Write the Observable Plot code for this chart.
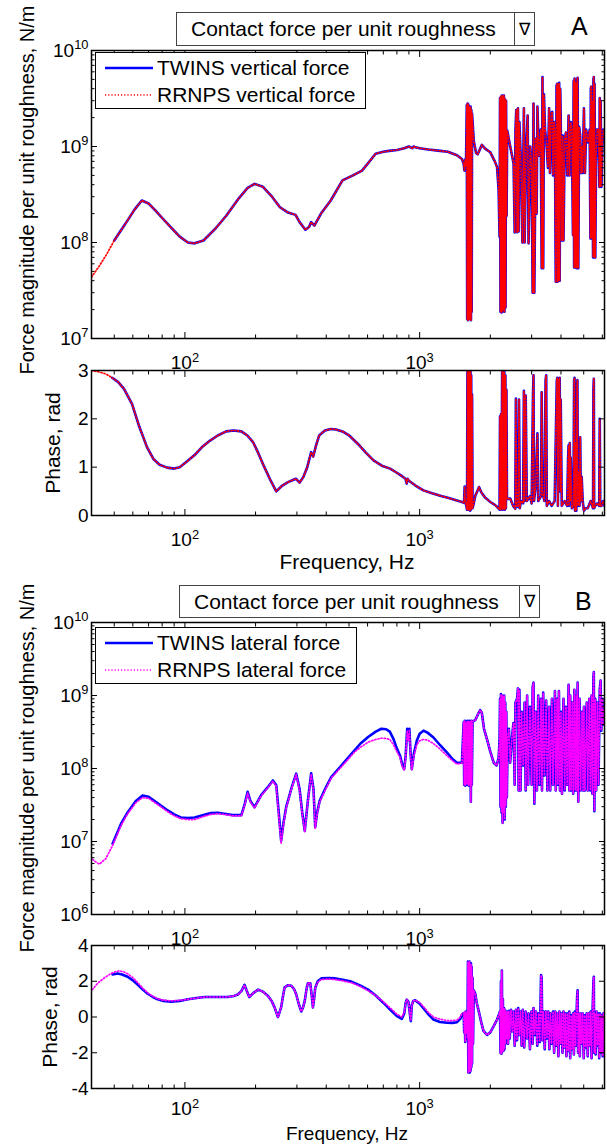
<!DOCTYPE html>
<html><head><meta charset="utf-8">
<script src="https://cdn.jsdelivr.net/npm/d3@7"></script>
<script src="https://cdn.jsdelivr.net/npm/@observablehq/plot@0.6"></script>
<style>
body{margin:0;background:#fff;font-family:"Liberation Sans",Arial,sans-serif;color:#000;}
#root{position:relative;width:607px;height:1145px;overflow:hidden;background:#fff;}
#root svg{position:absolute;left:0;}
.titlebox{position:absolute;border:1px solid #444;background:#fff;font-size:21px;box-sizing:border-box;}
.titlebox .t{position:absolute;left:14px;top:50%;transform:translateY(-50%);white-space:nowrap;}
.titlebox .d{position:absolute;top:0;bottom:0;border-left:1px solid #444;font-size:17px;display:flex;align-items:center;justify-content:center;}
.letter{position:absolute;font-size:25px;}
.legend{position:absolute;border:1.5px solid #000;background:#fff;box-sizing:border-box;font-size:21px;}
.legend .row{position:absolute;left:0;white-space:nowrap;}
.legend svg{position:absolute !important;}
.ylab{position:absolute;white-space:nowrap;transform:translate(-50%,-50%) rotate(-90deg);}
.xlab{position:absolute;white-space:nowrap;transform:translate(-50%,0);font-size:21px;line-height:21px;}
</style></head><body><div id="root"></div>
<script>
// ---------------- data ----------------
const xDomain = [40, 6130];
const xMajorTicks = [100, 1000];
const xMinorTicks = [50,60,70,80,90,200,300,400,500,600,700,800,900,2000,3000,4000,5000,6000];
const magATicks = [1e7, 1e8, 1e9, 1e10];
const magBTicks = [1e6, 1e7, 1e8, 1e9, 1e10];
const phaseATicks = [0, 1, 2, 3];
const phaseBTicks = [-4, -2, 0, 2, 4];

const legendA = ["TWINS vertical force", "RRNPS vertical force"];
const legendB = ["TWINS lateral force", "RRNPS lateral force"];
const titleText = "Contact force per unit roughness";

// Panel A: vertical force magnitude, [frequency Hz, N/m]
const twinsVerticalMag = [[50,1.05e8],[53,1.3e8],[57,1.7e8],[61,2.2e8],[65.5,2.74e8],[70,2.55e8],[75,2.15e8],[80,1.8e8],[88,1.4e8],[95,1.15e8],[103,1.0e8],[110,9.8e7],[120,1.05e8],[135,1.4e8],[150,1.9e8],[170,2.9e8],[185,3.7e8],[198,4.08e8],[215,3.8e8],[235,3.0e8],[254,2.33e8],[275,2.05e8],[296,1.94e8],[308,1.63e8],[326,1.36e8],[338,1.45e8],[345,1.63e8],[356,1.5e8],[380,2.0e8],[418,2.74e8],[469,4.43e8],[520,5.0e8],[568,5.6e8],[600,6.6e8],[649,8.4e8],[700,8.8e8],[741,9.0e8],[800,9.2e8],[860,9.6e8],[899,1.0e9],[930,9.6e8],[942,1.0e9],[960,9.8e8],[1000,9.6e8],[1089,9.3e8],[1223,9.0e8],[1318,8.8e8],[1442,8.1e8],[1514,7.4e8],[1540,6.6e8],[1552,5.6e8],[1562,7.3e8],[1575,6.2e8],
[1588,2.7e9],[1594,1.6e7],[1600,2.8e9],[1606,1.55e7],[1612,2.75e9],[1618,1.6e7],[1624,2.6e9],[1630,1.6e7],[1636,2.5e9],[1642,1.7e7],[1648,2.6e9],[1654,1.55e7],[1660,2.4e9],[1666,1.9e7],[1672,2.2e9],
[1700,1.15e9],[1740,8.5e8],[1767,8.3e8],[1841,1.04e9],[1900,9.5e8],[2000,8.7e8],[2090,7e8],[2137,6.1e8],[2170,3.5e8],[2190,1.15e8],
[2200,3.2e9],[2210,1.9e7],[2220,3.3e9],[2230,1.87e7],[2240,3.4e9],[2250,1.9e7],[2262,3.3e9],[2274,2.0e7],[2286,3.4e9],[2298,1.9e7],[2310,3.1e9],[2322,2.1e7],[2334,3.0e9],[2346,1.9e8],
[2360,1.47e9],[2432,1.0e9],[2513,6.6e8],[2540,1.27e8],[2560,1.5e9],[2580,2.4e9],[2600,1.28e8],[2623,2.5e9],[2640,1.3e8],[2660,1.8e9],[2700,7e8],[2740,1.0e8],[2780,2.5e9],[2800,1.0e8],[2840,9e8],[2885,2.1e9],[2910,9.8e7],[2960,1.0e9],[3000,6e8],[3030,3.0e7],[3055,2.8e9],[3080,3.0e7],[3120,1.2e9],[3150,2.0e8],[3175,2.6e9],[3220,8e8],[3280,1.5e9],[3310,5.4e7],[3336,5.3e9],[3360,5.4e7],[3385,3.5e9],[3420,1.5e9],[3460,1.2e9],[3520,6e8],[3560,2.5e9],[3590,5.3e8],[3630,2.2e9],[3670,2.3e9],[3700,5e8],[3740,1.8e9],[3770,1.36e9],[3800,3.9e7],[3830,4.3e9],[3850,4.5e9],[3870,3.9e7],[3890,4.4e9],[3910,4.0e7],[3930,4.6e9],[3950,4.0e7],[3970,4.0e9],[3990,2.0e9],[4030,1.05e8],[4070,1.3e9],[4100,1.05e8],[4150,1.2e9],[4200,1.4e9],[4260,5e8],[4310,2.1e9],[4350,5e8],[4400,1.8e9],[4450,1.5e9],[4500,1.2e8],[4530,4.8e9],[4550,5.5e7],[4570,5.1e9],[4590,5.5e7],[4610,4.6e9],[4630,6e7],[4650,4.5e9],[4670,5.4e7],[4690,5.0e9],[4710,5.2e9],[4740,5.4e7],[4780,1.6e9],[4830,1.3e9],[4870,5.3e8],[4900,1.0e9],[4950,5.3e8],[5010,2.5e9],[5060,5.3e8],[5120,1.5e9],[5220,1.1e9],[5300,1.5e9],[5340,1.1e8],[5360,4.0e9],[5380,4.2e9],[5400,1.1e8],[5440,3.0e9],[5480,7e7],[5500,5.0e9],[5520,5.3e9],[5540,7e7],[5560,4.5e9],[5600,7e7],[5640,6.6e8],[5700,1.5e9],[5780,1.5e9],[5830,3.8e8],[5850,3.2e9],[5880,3.8e8],[5900,3.0e9],[5950,3.8e8],[6000,1.0e9],[6060,1.5e9],[6130,1.3e9]];
// RRNPS starts lower in frequency; above 50 Hz it lies on the TWINS curve
const rrnpsVerticalMagLow = [[40,4.35e7],[43,5.6e7],[46.5,7.6e7]];

// Panel A: vertical force phase, [frequency Hz, rad]
const twinsVerticalPhase = [[49,2.85],[52,2.76],[55,2.62],[59.5,2.31],[64,1.83],[69,1.41],[73.4,1.17],[78,1.05],[84,0.99],[90,0.97],[95,1.0],[101,1.10],[110,1.25],[118,1.41],[128,1.55],[138,1.655],[150,1.74],[161,1.76],[174,1.74],[185,1.65],[195,1.52],[205,1.3],[218,1.0],[232,0.72],[245,0.50],[260,0.62],[275,0.69],[290,0.74],[297,0.76],[308,0.68],[320,0.8],[332,1.0],[345,1.31],[352,1.22],[362,1.45],[373,1.655],[395,1.76],[418,1.79],[440,1.78],[469,1.74],[500,1.66],[546,1.48],[590,1.3],[636,1.14],[690,1.03],[748,0.97],[790,0.9],[832,0.83],[870,0.76],[881,0.66],[888,0.76],[900,0.72],[960,0.62],[1038,0.52],[1130,0.46],[1223,0.41],[1330,0.36],[1442,0.31],[1514,0.28],[1545,0.26],[1555,0.6],[1565,0.3],[1580,0.21],
[1592,0.12],[1598,2.98],[1604,0.12],[1610,2.98],[1616,0.15],[1622,2.98],[1628,0.12],[1634,2.98],[1640,0.1],[1646,2.98],[1652,0.12],[1658,2.9],[1664,0.15],[1672,2.5],[1680,0.15],
[1700,0.25],[1726,0.41],[1760,0.5],[1790,0.59],[1830,0.48],[1900,0.37],[2000,0.28],[2090,0.22],[2137,0.18],[2190,0.12],
[2200,2.05],[2210,0.12],[2222,2.1],[2234,0.15],[2246,2.98],[2258,0.12],[2270,2.98],[2282,0.13],[2294,2.98],[2306,0.12],[2318,2.9],[2330,0.15],[2342,2.6],
[2355,0.34],[2432,0.35],[2500,0.2],[2556,0.14],[2570,2.42],[2590,0.2],[2630,0.18],[2650,2.4],[2670,0.15],[2700,0.3],[2760,0.25],[2780,2.58],[2800,0.3],[2830,2.48],[2860,0.3],[2950,0.4],[3000,0.25],[3040,2.5],[3055,2.9],[3070,0.3],[3120,0.6],[3175,1.7],[3200,0.3],[3290,0.4],[3310,2.55],[3330,0.5],[3400,0.3],[3440,2.8],[3460,2.9],[3480,0.2],[3560,0.3],[3650,0.2],[3760,0.3],[3840,2.8],[3860,2.85],[3880,0.2],[3920,2.8],[3950,2.85],[3970,0.5],[3990,2.4],[4030,0.2],[4150,0.3],[4250,0.2],[4290,1.2],[4310,1.45],[4330,0.2],[4360,1.5],[4380,0.3],[4400,1.2],[4450,0.15],[4520,0.2],[4550,2.8],[4570,2.85],[4590,0.1],[4620,1.5],[4650,0.1],[4680,2.7],[4700,2.8],[4720,0.2],[4760,0.9],[4800,0.2],[4830,1.62],[4860,0.3],[4900,0.8],[4950,0.3],[5010,0.1],[5100,0.15],[5200,0.15],[5350,0.3],[5480,0.15],[5500,2.6],[5520,2.83],[5540,0.15],[5600,0.2],[5700,0.25],[5820,0.2],[5850,2.0],[5880,0.2],[5950,0.2],[6050,0.3],[6130,0.2]];
const rrnpsVerticalPhaseLow = [[40,3.0],[43,2.97],[46,2.93]];

// Panel B: lateral force magnitude
const twinsLateralMagLow = [[49.2,9.3e6],[53.4,1.74e7],[57,2.5e7],[61.8,3.6e7],[66,4.27e7],[70,4.1e7],[74,3.6e7],[79,3.1e7],[84.5,2.66e7],[90,2.35e7],[96,2.13e7],[103,2.1e7],[110,2.13e7],[120,2.3e7],[129,2.45e7],[138,2.48e7],[147,2.4e7],[160,2.3e7],[174,2.3e7],[180,3.3e7],[185,4.8e7],[190,3.6e7],[198,2.95e7],[211,4.3e7],[225,5.5e7],[237,6.85e7],[245,5.9e7],[251,2.5e7],[257,1.03e7],[263,1.8e7],[270,2.95e7],[285,5.5e7],[298,8.5e7],[308,5.2e7],[316,2.5e7],[324,1.4e7],[334,3.6e7],[345,8.6e7],[353,5.2e7],[359,1.57e7],[366,2.5e7],[375,3.6e7],[395,5.2e7],[420,7.6e7],[464,1.1e8],[528,1.77e8],[560,2.2e8],[603,2.7e8],[650,3.2e8],[687,3.5e8],[720,3.45e8],[746,3.2e8],[775,2.5e8],[796,1.95e8],[826,1.48e8],[845,1.1e8],[859,9.8e7],[872,1.5e8],[885,3.5e8],[895,2.5e8],[904,3.5e8],[915,1.6e8],[926,9.8e7],[945,1.6e8],[972,2.4e8],[1000,3.0e8],[1038,3.3e8],[1080,3.1e8],[1145,2.66e8],[1220,2.1e8],[1306,1.66e8],[1380,1.35e8],[1442,1.2e8],[1514,1.2e8]];
const rrnpsLateralMagLow = [[39.5,6.1e6],[41.5,5.3e6],[43.2,4.9e6],[46,5.8e6],[49.2,8.8e6],[53.4,1.65e7],[57,2.4e7],[61.8,3.4e7],[66,4.0e7],[70,3.9e7],[74,3.45e7],[79,3.0e7],[84.5,2.55e7],[90,2.25e7],[96,2.05e7],[103,2.0e7],[110,2.0e7],[120,2.2e7],[129,2.35e7],[138,2.4e7],[147,2.35e7],[160,2.25e7],[174,2.25e7],[180,3.2e7],[185,4.6e7],[190,3.5e7],[198,2.9e7],[211,4.2e7],[225,5.4e7],[237,6.7e7],[245,5.7e7],[251,2.3e7],[257,9.5e6],[263,1.7e7],[270,2.9e7],[285,5.4e7],[298,8.3e7],[308,5.0e7],[316,2.4e7],[324,1.35e7],[334,3.5e7],[345,8.4e7],[353,5.0e7],[359,1.5e7],[366,2.4e7],[375,3.5e7],[395,5.0e7],[420,7.4e7],[464,1.05e8],[528,1.68e8],[560,1.95e8],[603,2.3e8],[650,2.5e8],[687,2.6e8],[720,2.58e8],[746,2.5e8],[775,2.1e8],[796,1.75e8],[826,1.4e8],[845,1.05e8],[859,9.5e7],[872,1.4e8],[885,3.3e8],[895,2.4e8],[904,3.3e8],[915,1.5e8],[926,9.5e7],[945,1.5e8],[972,2.1e8],[1000,2.4e8],[1038,2.5e8],[1080,2.45e8],[1145,2.2e8],[1220,1.85e8],[1306,1.5e8],[1380,1.28e8],[1442,1.15e8],[1514,1.18e8]];
// above ~1.5 kHz both models overlap
const lateralMagHigh = [[1540,4.3e8],[1548,6e7],[1556,4.5e8],[1564,5.8e7],[1572,4.2e8],[1580,6e7],[1588,1.5e8],[1596,4.5e8],[1604,6e7],[1612,4.4e8],[1620,5.8e7],[1628,4.5e8],[1636,6e7],[1644,4.3e8],[1652,3.5e7],[1660,4.5e8],[1668,6e7],[1680,4.4e8],
[1726,4.6e8],[1770,5.5e8],[1811,6.3e8],[1840,5.8e8],[1880,3.5e8],[1936,2.5e8],[2000,1.7e8],[2067,1.2e8],[2128,1.1e8],[2170,1.4e8],[2190,2.5e8],
[2200,9e8],[2210,3e7],[2220,1.05e9],[2232,2.5e7],[2244,1.0e9],[2256,1.8e7],[2268,9.5e8],[2280,2.5e7],[2292,1.0e9],[2304,2.0e7],[2316,8e8],[2328,3e7],[2340,6e8],[2352,4e7],
[2370,2.4e8],[2400,3.5e8],[2430,1.2e8],[2470,2.5e8],[2510,4.2e8],[2540,6e7],[2560,8e8],[2600,9.0e8],[2623,1.25e9],[2640,5e7],[2660,1.2e9],[2690,5e7],[2720,6e8],[2760,1.1e8],[2800,8e8],[2830,5e7],[2870,1.0e9],[2900,6e7],[2950,7e8],[3000,6e7],[3030,1.3e9],[3055,1.5e9],[3080,3.3e7],[3120,6e8],[3160,5e7],[3200,1.0e9],[3240,6e7],[3290,9e8],[3320,5e7],[3360,1.1e9],[3400,8e7],[3460,8.5e8],[3500,5e7],[3560,7e8],[3600,5e7],[3660,9e8],[3700,6e7],[3770,1.15e9],[3800,5e7],[3850,9e8],[3880,6e7],[3920,1.15e9],[3960,5e7],[4000,6e8],[4040,4.5e7],[4100,9e8],[4150,5e7],[4200,7e8],[4250,6e7],[4310,1.4e9],[4340,5e7],[4380,1.0e9],[4420,5e7],[4470,8e8],[4510,4.5e7],[4560,1.2e9],[4600,5e7],[4650,1.0e9],[4680,5e7],[4710,1.5e9],[4740,3.5e7],[4800,9e8],[4850,5e7],[4920,6e8],[4970,5e7],[5010,7e8],[5060,5e7],[5150,8e8],[5200,5e7],[5280,9e8],[5330,5e7],[5400,1.0e9],[5440,4.5e7],[5500,1.8e9],[5520,2.1e9],[5550,2.6e7],[5600,9e8],[5650,5e7],[5720,8e8],[5780,6e7],[5850,1.2e9],[5900,1.6e9],[5940,3.3e8],[6000,9e8],[6060,4e8],[6130,7e8]];

// Panel B: lateral force phase
const twinsLateralPhaseLow = [[49.2,2.38],[51.7,2.43],[54,2.38],[57,2.25],[60,2.05],[63,1.8],[66,1.55],[69.4,1.3],[73,1.12],[76.5,0.99],[81,0.9],[87.3,0.85],[95,0.9],[103,0.99],[112,1.06],[121,1.12],[135,1.12],[152,1.12],[162,1.18],[168,1.26],[174,1.45],[179.5,1.8],[183,1.5],[188,1.12],[196,1.35],[205,1.53],[215,1.42],[226,1.17],[234,0.9],[241,0.54],[249,0.0],[257,0.54],[262,1.2],[266,1.66],[275,1.78],[284,1.75],[292,1.55],[298,1.26],[306,0.7],[313,0.31],[318,0.5],[324,0.9],[330,1.6],[334,1.89],[342,1.89],[347,1.2],[351,0.54],[355,1.0],[359,1.62],[368,2.0],[381,2.16],[410,2.18],[434,2.16],[470,2.08],[512,1.98],[560,1.75],[603,1.53],[650,1.2],[700,0.8],[750,0.4],[800,0.05],[840,-0.1],[860,0.2],[872,0.8],[881,0.97],[896,0.85],[908,0.2],[917,-0.23],[926,0.67],[940,0.9],[957,0.94],[1000,0.75],[1038,0.49],[1090,0.15],[1145,-0.14],[1220,-0.28],[1306,-0.32],[1380,-0.33],[1442,-0.29],[1490,-0.1],[1514,0.13]];
const rrnpsLateralPhaseLow = [[39.5,1.39],[42.5,1.89],[45.5,2.2],[48.4,2.43],[50.5,2.53],[52.5,2.58],[55,2.52],[57,2.42],[60,2.2],[63,1.92],[66,1.62],[69.4,1.35],[73,1.15],[76.5,1.02],[81,0.94],[87.3,0.9],[95,0.93],[103,0.99],[112,1.06],[121,1.12],[135,1.12],[152,1.12],[162,1.18],[168,1.26],[174,1.45],[179.5,1.78],[183,1.5],[188,1.12],[196,1.35],[205,1.53],[215,1.42],[226,1.17],[234,0.9],[241,0.54],[249,0.0],[257,0.54],[262,1.2],[266,1.66],[275,1.78],[284,1.75],[292,1.55],[298,1.26],[306,0.7],[313,0.31],[318,0.5],[324,0.9],[330,1.6],[334,1.89],[342,1.89],[347,1.2],[351,0.54],[355,1.0],[359,1.62],[368,1.95],[381,2.1],[410,2.12],[434,2.1],[470,2.02],[512,1.92],[560,1.7],[603,1.47],[650,1.2],[700,0.85],[750,0.5],[800,0.15],[840,0.0],[860,0.25],[872,0.8],[881,0.97],[896,0.85],[908,0.2],[917,-0.2],[926,0.67],[940,0.9],[957,0.94],[1000,0.8],[1038,0.58],[1090,0.25],[1145,0.0],[1220,-0.12],[1306,-0.2],[1380,-0.2],[1442,-0.17],[1490,0.0],[1514,0.18]];
const lateralPhaseHigh = [[1540,0.22],[1548,-0.86],[1556,0.25],[1564,-1.4],[1572,0.3],[1580,-0.9],[1590,0.2],[1598,-1.2],
[1606,3.1],[1612,-3.1],[1618,3.0],[1624,-3.0],[1630,3.1],[1636,-3.1],[1642,2.9],[1648,-3.0],[1654,3.0],[1660,-2.8],[1666,2.8],[1672,-2.6],[1680,2.2],[1688,-1.5],
[1700,1.5],[1726,1.3],[1750,0.8],[1780,0.4],[1830,-0.3],[1870,-0.78],[1936,-1.0],[2000,-0.86],[2070,-0.5],[2137,-0.14],[2200,0.31],
[2210,-2.0],[2220,2.0],[2230,-2.05],[2240,2.6],[2250,-1.9],[2262,1.0],[2274,-1.9],[2286,0.5],[2298,-1.8],[2310,0.4],[2322,-1.5],[2334,0.3],[2346,-1.2],[2358,0.3],
[2380,-1.5],[2400,0.35],[2420,-1.2],[2450,0.4],[2480,-0.8],[2510,0.3],[2540,-1.6],[2570,0.4],[2600,-1.3],[2630,0.5],[2660,-1.0],[2690,0.3],[2720,-1.6],[2750,0.4],[2790,-1.7],[2830,0.3],[2870,-1.2],[2910,0.2],[2950,-1.8],[2990,0.3],[3030,-1.5],[3055,0.5],[3090,-1.0],[3130,0.3],[3170,-1.6],[3210,0.2],[3250,-1.4],[3290,2.34],[3310,2.2],[3330,-1.3],[3370,0.3],[3410,-1.8],[3450,0.3],[3490,-1.2],[3530,0.3],[3570,-1.8],[3610,0.2],[3650,-1.5],[3700,0.3],[3740,-2.0],[3780,0.3],[3820,-1.6],[3860,0.2],[3900,-2.2],[3940,0.3],[3980,-1.5],[4020,0.2],[4060,-2.0],[4100,0.3],[4140,-1.7],[4180,0.2],[4220,-2.2],[4260,0.2],[4300,-1.9],[4340,0.3],[4380,-2.3],[4420,0.1],[4460,-1.8],[4500,0.2],[4540,-2.1],[4580,0.3],[4620,-1.6],[4660,0.2],[4690,1.2],[4710,1.5],[4730,-2.0],[4770,0.2],[4810,-2.2],[4850,0.2],[4900,-1.5],[4950,0.2],[5000,-2.3],[5050,0.1],[5100,-1.7],[5150,0.2],[5200,-2.2],[5250,0.2],[5300,-1.6],[5350,0.3],[5400,-2.3],[5450,0.2],[5500,2.0],[5520,2.25],[5540,-2.0],[5580,0.2],[5620,-2.1],[5670,0.3],[5720,-1.6],[5770,0.2],[5820,-2.3],[5870,0.2],[5920,-2.0],[5970,0.1],[6020,-2.2],[6070,0.2],[6130,-2.2]];

// ---------------- drawing ----------------
const BLUE = "#0000ff", RED = "#ff0000", MAGENTA = "#ff00ff";
const FONT = "'Liberation Sans', Arial, sans-serif";

function logMinor(lo, hi) {
  const out = [];
  for (let e = Math.round(Math.log10(lo)); e < Math.round(Math.log10(hi)); e++)
    for (let m = 2; m <= 9; m++) out.push(m * Math.pow(10, e));
  return out;
}
const pow10 = d => "10^" + Math.round(Math.log10(d));

function panel(o) {
  const marks = [];
  for (const s of o.series) {
    marks.push(Plot.line(s.data, {x: d => d[0], y: d => d[1], stroke: s.color, strokeWidth: s.width,
      strokeDasharray: s.dash, strokeLinejoin: "round", clip: true}));
  }
  const T = 6, t = 3.5;
  const blank = () => null;
  marks.push(
    Plot.axisX(xMajorTicks, {anchor: "bottom", tickSize: -T, tickFormat: blank, label: null}),
    Plot.axisX(xMajorTicks, {anchor: "top", tickSize: -T, tickFormat: blank, label: null}),
    Plot.axisX(xMinorTicks, {anchor: "bottom", tickSize: -t, tickFormat: blank, label: null}),
    Plot.axisX(xMinorTicks, {anchor: "top", tickSize: -t, tickFormat: blank, label: null}),
    Plot.axisX(xMajorTicks, {anchor: "bottom", tickSize: 0, tickPadding: o.xPad ?? 17, tickFormat: pow10, label: null}),
    Plot.axisY(o.yMajor, {anchor: "left", tickSize: -T, tickFormat: blank, label: null}),
    Plot.axisY(o.yMajor, {anchor: "right", tickSize: -T, tickFormat: blank, label: null}),
    Plot.axisY(o.yMajor, {anchor: "left", tickSize: 0, tickPadding: 3, tickFormat: o.yFmt, label: null})
  );
  if (o.yMinor) marks.push(
    Plot.axisY(o.yMinor, {anchor: "left", tickSize: -t, tickFormat: blank, label: null}),
    Plot.axisY(o.yMinor, {anchor: "right", tickSize: -t, tickFormat: blank, label: null})
  );
  marks.push(Plot.frame({stroke: "#000", strokeWidth: 1.5}));
  const svg = Plot.plot({
    width: 607, height: o.height,
    marginLeft: 91, marginRight: 3, marginTop: o.mt, marginBottom: o.mb,
    x: {type: "log", domain: xDomain},
    y: {type: o.yType, domain: o.yDomain},
    style: {fontFamily: FONT, fontSize: "19px", background: "transparent", color: "#000", overflow: "visible"},
    marks
  });
  svg.style.top = o.top + "px";
  // superscript exponents on 10^n tick labels
  svg.querySelectorAll("text").forEach(tx => {
    const m = tx.textContent.match(/^10\^(-?\d+)$/);
    if (!m) return;
    tx.textContent = "";
    const ns = "http://www.w3.org/2000/svg";
    const a = document.createElementNS(ns, "tspan"); a.textContent = "10";
    const b = document.createElementNS(ns, "tspan"); b.textContent = m[1];
    b.setAttribute("dy", "-0.55em"); b.setAttribute("font-size", "0.68em");
    tx.appendChild(a); tx.appendChild(b);
  });
  return svg;
}

const root = document.getElementById("root");
const lw = 2.6, dw = 1.7, dash = "1.2,2";

root.appendChild(panel({top: 0, height: 375, mt: 50, mb: 37, yType: "log", yDomain: [1e7, 1e10],
  yMajor: magATicks, yMinor: logMinor(1e7, 1e10), yFmt: pow10,
  series: [
    {data: twinsVerticalMag, color: BLUE, width: lw},
    {data: rrnpsVerticalMagLow.concat(twinsVerticalMag), color: RED, width: dw, dash}
  ]}));
root.appendChild(panel({top: 365, height: 215, mt: 5, mb: 65, yType: "linear", yDomain: [0, 3],
  yMajor: phaseATicks, yFmt: d => String(d),
  series: [
    {data: twinsVerticalPhase, color: BLUE, width: lw},
    {data: rrnpsVerticalPhaseLow.concat(twinsVerticalPhase), color: RED, width: dw, dash}
  ]}));
root.appendChild(panel({top: 580, height: 370, mt: 42, mb: 36, yType: "log", yDomain: [1e6, 1e10],
  yMajor: magBTicks, yMinor: logMinor(1e6, 1e10), yFmt: pow10,
  series: [
    {data: twinsLateralMagLow.concat(lateralMagHigh), color: BLUE, width: lw},
    {data: rrnpsLateralMagLow.concat(lateralMagHigh), color: MAGENTA, width: dw, dash}
  ]}));
root.appendChild(panel({top: 938, height: 200, mt: 7, mb: 50, yType: "linear", yDomain: [-4, 4], xPad: 13,
  yMajor: phaseBTicks, yFmt: d => String(d),
  series: [
    {data: twinsLateralPhaseLow.concat(lateralPhaseHigh), color: BLUE, width: lw},
    {data: rrnpsLateralPhaseLow.concat(lateralPhaseHigh), color: MAGENTA, width: dw, dash}
  ]}));

// ---------------- HTML annotations ----------------
function el(cls, css, html) {
  const d = document.createElement("div");
  d.className = cls; Object.assign(d.style, css); if (html != null) d.innerHTML = html;
  root.appendChild(d); return d;
}
function titleBox(left, top, width, height, divider) {
  const b = el("titlebox", {left: left + "px", top: top + "px", width: width + "px", height: height + "px"});
  const t = document.createElement("div"); t.className = "t"; t.textContent = titleText; b.appendChild(t);
  const d = document.createElement("div"); d.className = "d";
  d.style.left = (divider - left - 1) + "px"; d.style.right = "0px"; d.textContent = "\u2207"; b.appendChild(d);
}
titleBox(176, 12, 359, 34, 514);
titleBox(179, 585, 361, 33, 519);
el("letter", {left: "571px", top: "12px"}, "A");
el("letter", {left: "575px", top: "587px"}, "B");

function legend(left, top, width, height, labels, color2) {
  const L = el("legend", {left: left + "px", top: top + "px", width: width + "px", height: height + "px"});
  [[labels[0], BLUE, null, lw], [labels[1], color2, dash, dw]].forEach(([txt, c, da, w], i) => {
    const cy = 15 + i * 27;
    const s = document.createElementNS("http://www.w3.org/2000/svg", "svg");
    s.setAttribute("width", 50); s.setAttribute("height", 6);
    s.style.left = "9px"; s.style.top = (cy - 3) + "px";
    s.innerHTML = `<line x1="0" y1="3" x2="48" y2="3" stroke="${c}" stroke-width="${w}" ${da ? `stroke-dasharray="${da}"` : ""}/>`;
    L.appendChild(s);
    const r = document.createElement("div"); r.className = "row";
    r.style.left = "61px"; r.style.top = (cy - 13) + "px"; r.style.lineHeight = "26px";
    r.textContent = txt; L.appendChild(r);
  });
}
legend(95, 52, 271, 57, legendA, RED);
legend(95, 627, 262, 57, legendB, MAGENTA);

const yl = "Force magnitude per unit roughness, N/m";
el("ylab", {left: "27px", top: "190px", fontSize: "20px"}, yl);
el("ylab", {left: "27px", top: "768px", fontSize: "20px"}, yl);
el("ylab", {left: "53px", top: "443px", fontSize: "21px"}, "Phase, rad");
el("ylab", {left: "50px", top: "1017px", fontSize: "21px"}, "Phase, rad");
el("xlab", {left: "347px", top: "551px"}, "Frequency, Hz");
el("xlab", {left: "347px", top: "1124px", fontSize: "19px", lineHeight: "19px"}, "Frequency, Hz");
</script></body></html>
